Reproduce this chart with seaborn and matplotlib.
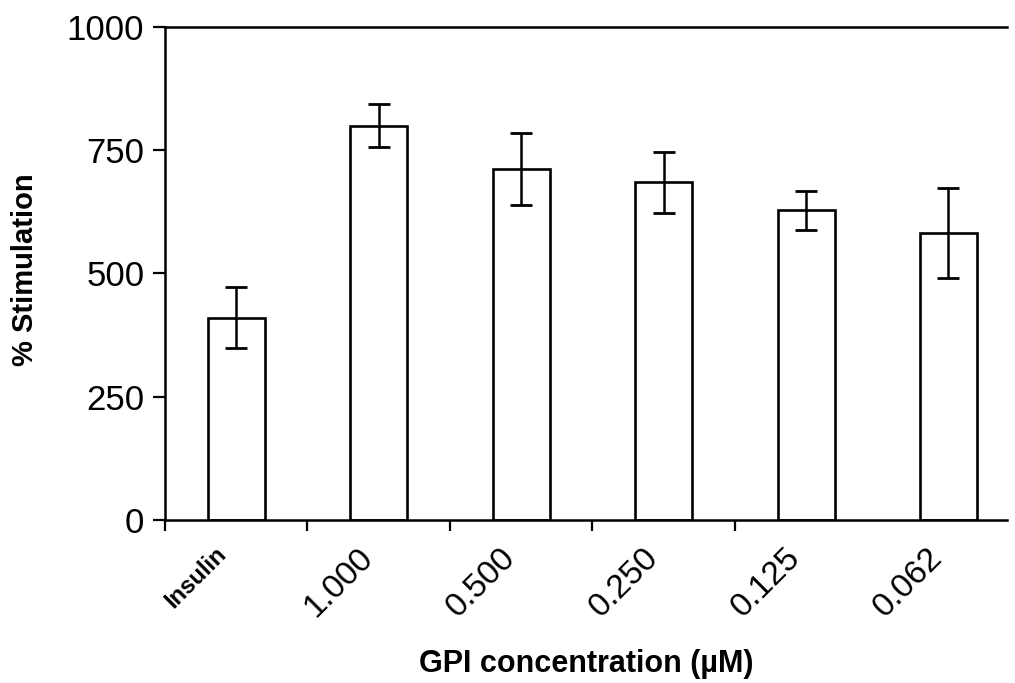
import matplotlib
matplotlib.use("Agg")
import matplotlib.pyplot as plt
import seaborn as sns
import pandas as pd
import numpy as np
from matplotlib.ticker import FixedLocator

categories = ["Insulin", "1.000", "0.500", "0.250", "0.125", "0.062"]
means = [410, 800, 712, 685, 628, 582]
errors = [62, 44, 73, 62, 40, 92]
yticks = [0, 250, 500, 750, 1000]

df = pd.DataFrame({"conc": categories, "stim": means})

sns.set_style("ticks")
plt.rcParams["font.family"] = ["Liberation Sans", "DejaVu Sans"]
plt.rcParams["text.color"] = "black"
plt.rcParams["axes.labelcolor"] = "black"
plt.rcParams["xtick.color"] = "black"
plt.rcParams["ytick.color"] = "black"

fig = plt.figure(figsize=(10.15, 6.83), dpi=100)
ax = fig.add_axes([0.1626, 0.2387, 0.992 - 0.1626, 0.9605 - 0.2387])

sns.barplot(data=df, x="conc", y="stim", order=categories, color="white",
            edgecolor="black", linewidth=1.9, width=0.40, errorbar=None, ax=ax)
xs = np.arange(len(categories))
ax.errorbar(xs, means, yerr=errors, fmt="none", ecolor="black",
            elinewidth=1.8, capsize=8, capthick=2.0, zorder=5)

ax.set_ylim(0, 1000)
ax.set_xlim(-0.5, 5.41)
ax.set_yticks(yticks)
ax.set_yticklabels([str(v) for v in yticks], fontsize=25)

label_offset = 0.15  # label anchor shift (left of bar centre)
ax.set_xticks(xs - label_offset)
ax.set_xticklabels(categories, rotation=45, ha="right", va="top",
                   rotation_mode="anchor", fontsize=24)
lbls = ax.get_xticklabels()
lbls[0].set_fontweight("bold")
lbls[0].set_fontsize(17)
ax.tick_params(axis="x", which="major", length=0, pad=16)
ax.xaxis.set_minor_locator(FixedLocator(np.arange(len(categories) - 1) - 0.5))
ax.tick_params(axis="x", which="minor", length=8, width=1.6, direction="out", color="black")
ax.tick_params(axis="y", length=9, width=1.6, direction="out", color="black", pad=6)

for s in ["left", "bottom", "top"]:
    ax.spines[s].set_visible(True)
    ax.spines[s].set_linewidth(1.8)
    ax.spines[s].set_color("black")
ax.spines["right"].set_visible(False)

ax.set_xlabel("GPI concentration (\u00b5M)", fontsize=22, fontweight="bold")
ax.set_ylabel("% Stimulation", fontsize=21, fontweight="bold")
ax.xaxis.set_label_coords(0.5, -0.262)
ax.yaxis.set_label_coords(-0.150, 0.507)

fig.savefig("out.png", dpi=100, facecolor="white")
